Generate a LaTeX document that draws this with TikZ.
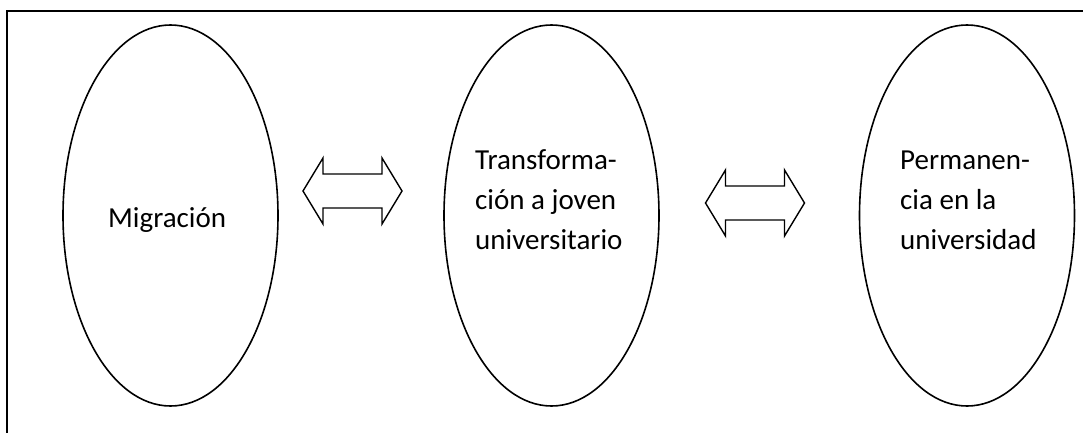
\documentclass[tikz,border=0pt]{standalone}
\usepackage{fontspec}
\setmainfont{Carlito}
\usetikzlibrary{shapes.geometric}
\tikzset{
  ell/.style={draw, ellipse, line width=1.6pt, minimum width=215pt, minimum height=381pt, inner sep=0pt},
  txt/.style={font=\fontsize{29}{40}\selectfont, align=left, inner sep=0pt, anchor=base west},
  dblarrow/.pic={\draw[line width=1.4pt, line join=miter] (-49.5,0) -- ++(20,-33) -- ++(0,16) -- ++(59,0) -- ++(0,-16) -- ++(20,33) -- ++(-20,33) -- ++(0,-16) -- ++(-59,0) -- ++(0,16) -- cycle;}
}
\begin{document}
\begin{tikzpicture}[x=1pt,y=-1pt]
\useasboundingbox (0,0) rectangle (1083,433);
\clip (0,0) rectangle (1083,433);
\draw[line width=1.8pt] (7,450) -- (7,11) -- (1100,11);
\node[ell] (e1) at (170.5,215.5) {};
\node[ell] (e2) at (551.5,215.5) {};
\node[ell] (e3) at (967,215.5) {};
\node[txt] (t1) at (108,227) {Migración};
\node[txt] (t2) at (475,249) {Transforma-\\ción a joven\\universitario};
\node[txt] (t3) at (900,249) {Permanen-\\cia en la\\universidad};
\pic (a1) at (352.5,191) {dblarrow};
\pic (a2) at (755,203) {dblarrow};
\end{tikzpicture}
\end{document}
